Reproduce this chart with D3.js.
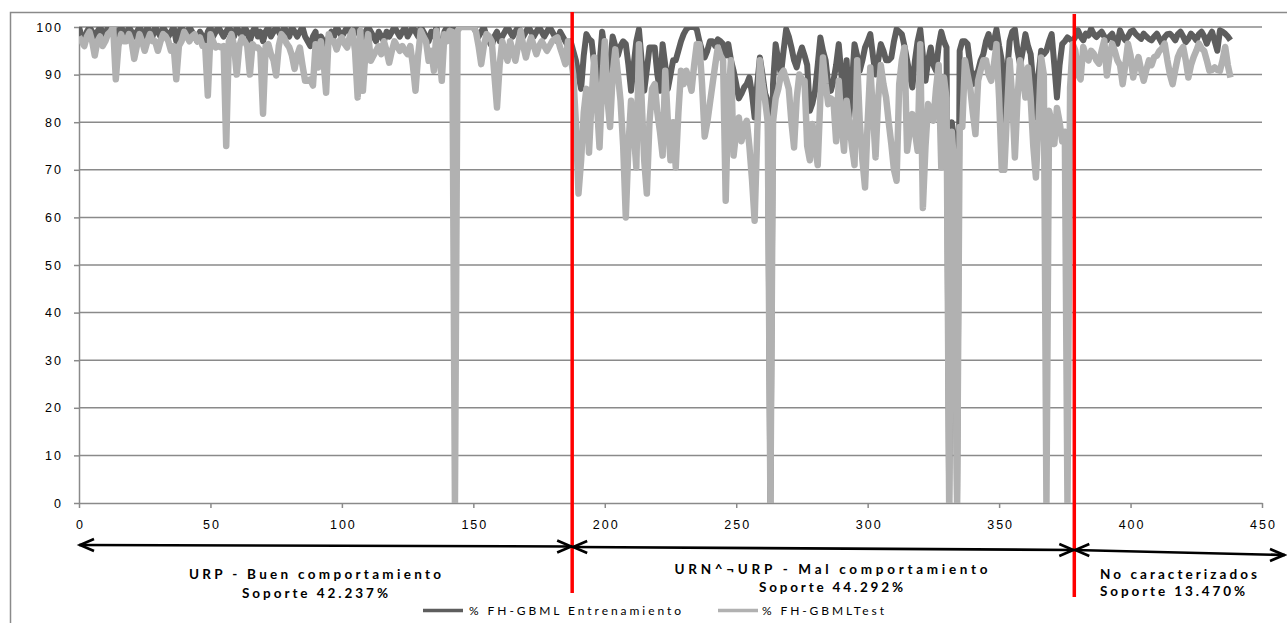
<!DOCTYPE html>
<html>
<head>
<meta charset="utf-8">
<script src="https://cdn.jsdelivr.net/npm/d3@7"></script>
<style>
  html, body { margin: 0; padding: 0; background: #fff; }
  svg { display: block; font-family: Lato, "Open Sans", sans-serif; }
</style>
</head>
<body>
<svg id="chart" width="1287" height="623"></svg>
<script>
// ── Data ─────────────────────────────────────────────────────────────────────

const xTicks = [0, 50, 100, 150, 200, 250, 300, 350, 400, 450];
const yTicks = [0, 10, 20, 30, 40, 50, 60, 70, 80, 90, 100];

const seriesNames = ["% FH-GBML Entrenamiento", "% FH-GBMLTest"];

// % FH-GBML Entrenamiento, one value per example index 0..438
const trainingPct = [
  100, 98, 97, 99, 100, 99, 98, 99, 100, 99,
  98, 100, 100, 100, 98, 99, 100, 99, 98, 100,
  99, 98, 99, 100, 99, 98, 100, 99, 98, 100,
  99, 98, 100, 99, 98, 99, 100, 97, 99, 100,
  99, 98, 100, 99, 98, 97, 99, 98, 97, 99,
  100, 98, 99, 100, 99, 98, 99, 100, 99, 98,
  100, 99, 98, 100, 99, 97, 99, 100, 98, 99,
  97, 99, 100, 98, 99, 100, 99, 98, 100, 99,
  98, 100, 99, 98, 99, 100, 98, 97, 96, 98,
  99, 93, 98, 97, 96, 98, 99, 98, 100, 99,
  98, 99, 100, 99, 98, 100, 99, 98, 97, 99,
  100, 99, 98, 97, 99, 98, 97, 99, 98, 99,
  100, 99, 98, 99, 100, 98, 99, 100, 99, 98,
  100, 99, 98, 97, 99, 98, 100, 95, 94.5, 99,
  100, 99, 100, 99, 100, 100, 100, 100, 100, 100,
  100, 99, 98, 99, 100, 98, 97, 96, 98, 99,
  97, 98, 99, 100, 99, 98, 99, 100, 99, 98,
  99, 100, 99, 98, 99, 100, 99, 98, 99, 100,
  99, 98, 97, 99, 98, 97, 96, 97, 95, 93,
  90, 87, 94, 98.5, 97.5, 97, 92, 85, 92, 99,
  95, 86.6, 92, 98, 96, 94, 96, 97, 96.4, 92,
  86.6, 92, 97, 99.5, 93, 86.6, 91, 95.7, 95.7, 95.7,
  90, 86.6, 96.4, 92, 87, 90, 93, 93, 95, 97,
  98.5, 99.5, 100, 100, 100, 99.5, 97, 95, 93.6, 95,
  97, 97, 96, 97.4, 97, 96.4, 94, 96.4, 93, 90.8,
  88, 85, 86, 87.3, 88, 89.4, 86, 81, 88, 93.6,
  90, 86, 84.5, 0, 88, 96.4, 93, 90, 95, 99.5,
  98, 95.7, 93, 91.5, 94, 95.7, 94, 92, 82.4, 84,
  86.6, 92, 97.8, 95, 93, 88, 86.6, 88.7, 92, 96.4,
  90, 84.5, 93, 81, 88, 96.4, 94, 90.8, 93, 95.7,
  97, 98.5, 94, 90, 93, 96.4, 95, 93, 93, 93.6,
  97, 99.5, 99, 98.5, 96, 93, 90, 87.3, 93, 97,
  99.5, 94, 88.7, 93, 95.7, 92, 90.8, 96, 99, 97,
  95.7, 0, 80, 76, 0, 95, 97, 97, 96.4, 92,
  88, 90, 90.8, 93, 94.3, 97, 98.5, 95.7, 97, 99.5,
  96, 93, 79, 90, 97, 99, 99.5, 95, 92, 95,
  98.5, 96, 94.3, 88, 81, 90, 95, 94.3, 95, 97,
  98.5, 92, 85.2, 92, 96.4, 97, 97.8, 97.4, 97, 97.9,
  99.3, 98, 97.2, 98.6, 98.2, 99.6, 98.5, 97.9, 98.5, 99,
  98, 97.2, 98, 98.6, 97, 96.5, 99.3, 98, 97.2, 98,
  99, 99.3, 98.5, 98, 97.5, 98.6, 98, 97.5, 97.2, 98,
  98.6, 97.5, 96.5, 97.9, 98.5, 98.6, 98, 97.2, 98.5, 99,
  98, 96.8, 97.5, 98.6, 98, 97.2, 98.5, 99, 98, 96.5,
  98, 99, 97, 95, 99.3, 99, 98.6, 98, 97.2
];

// % FH-GBMLTest, one value per example index 0..438
const testPct = [
  98, 97, 96, 98, 99, 97, 94, 97, 98, 96,
  97, 98.5, 99, 100, 89, 96, 98.5, 97, 97, 98.5,
  97, 93.3, 96, 98.5, 97, 95, 97, 98.5, 97, 97,
  95, 97, 98.5, 98, 97, 95, 96, 89, 96, 97,
  99, 98, 97, 98, 98.5, 97, 97.8, 96, 96, 85.6,
  98.5, 97, 95.7, 96, 95.7, 96, 75, 97, 98.5, 96,
  90, 96, 97.8, 97, 96, 90, 96.4, 95.7, 95.7, 95,
  81.8, 96, 96.4, 94.3, 93, 89.8, 96, 98.5, 97.8, 96.5,
  95.7, 94, 91.2, 94, 95.7, 92, 88.7, 88.7, 89, 87.7,
  96.4, 91.5, 97, 93, 86.2, 98.5, 97, 97, 95.3, 97,
  97.8, 96.5, 95.7, 98, 99.2, 95, 85.2, 99.2, 86.6, 95,
  98.5, 92.9, 94, 95, 96, 94.3, 97, 95, 92.5, 95,
  97, 96, 95, 96, 95, 94.3, 96, 92, 86.6, 94,
  99.2, 98, 97, 92.9, 95, 90.8, 99.2, 95, 88.7, 98.5,
  97, 99.2, 99, 0, 99.2, 100, 100, 100, 100, 100,
  100, 99, 96, 92.2, 96, 98.5, 98, 97, 90, 83.1,
  92, 97, 95, 92.9, 97, 95, 92.9, 96, 99.2, 96,
  93.6, 96, 97.8, 96, 94.3, 96, 97, 96, 95, 96,
  97, 97.5, 97.8, 95.7, 94, 92.2, 97, 94, 90, 80,
  65, 72, 82, 87, 73.6, 85, 93.6, 84, 74.7, 88,
  97, 85, 79, 90, 95.3, 90, 84.5, 75, 60, 75,
  84.5, 78, 70.5, 96.4, 85, 72, 65, 80, 87, 88,
  82, 78, 73, 90.8, 80, 72, 80, 70.5, 82, 90.8,
  88, 90.8, 89, 86.6, 92, 96.4, 96.4, 88, 77, 80,
  84, 88, 92, 95.7, 94, 93, 63.5, 85, 93, 73,
  78, 81, 76, 79, 80.3, 75, 68, 59.3, 78, 93,
  88, 84.5, 80, 0, 80, 85, 87, 90, 90.8, 89,
  87, 80, 74.7, 85, 90, 89, 88.7, 75, 72, 79.6,
  75, 71, 85, 93.6, 88, 83.8, 85, 84.5, 76, 88.7,
  80, 74, 84.5, 80, 75, 71, 93, 80, 72, 66.3,
  80, 91.5, 82, 72.6, 85, 92, 88, 85.2, 80, 75.4,
  70, 67.7, 88, 93, 95.7, 74, 78, 81.7, 78, 74,
  96.4, 62, 75, 83.8, 82, 80.3, 87, 92, 70.5, 89.4,
  85, 0, 78, 70, 0, 79, 79, 93, 90, 87.3,
  82, 77.5, 88.7, 91, 93, 93, 90, 88.7, 92, 96.4,
  85, 70, 70, 82, 93, 85, 72.6, 85, 93, 90,
  85.2, 91.5, 85, 75, 68.4, 80, 93.6, 90, 0, 82.4,
  80, 75.4, 83, 80, 76, 78, 0, 87.3, 96.4, 95,
  90, 89, 95.8, 94, 93, 95, 94.4, 93, 92.3, 95,
  97.2, 89.8, 94, 96.5, 95, 93, 92, 88, 92, 96.5,
  94, 89.4, 92, 93.7, 91, 88.7, 91, 93, 92, 93.7,
  94, 95, 95.5, 96.5, 93, 90, 88, 91, 93.7, 95,
  95.8, 93, 89.4, 92, 93.7, 95, 96.5, 95.5, 95, 93,
  90.8, 91, 91.5, 91, 90.8, 93, 95.8, 92, 89.4
];

// region boundaries (example index where the red lines sit) and labels
const regionBounds = [187.6, 378.6];
const arrowSpans   = [[0, 187.6], [187.6, 378.6], [378.6, 459.5]];
const regionTitles  = ["URP - Buen comportamiento", "URN^¬URP  -  Mal comportamiento", "No caracterizados"];
const regionSupport = ["Soporte 42.237%", "Soporte 44.292%", "Soporte 13.470%"];

// ── Layout ───────────────────────────────────────────────────────────────────

const W = 1287, H = 623;
const plot = { left: 79, right: 1262, top: 27, bottom: 503 };
const DARK = "#5e5e5e", LIGHT = "#b1b1b1", GRID = "#8a8a8a";

const svg = d3.select("#chart");
svg.append("rect").attr("width", W).attr("height", H).attr("fill", "#fff");

const x = d3.scaleLinear().domain([0, 450]).range([plot.left, plot.right]);
const y = d3.scaleLinear().domain([0, 100]).range([plot.bottom, plot.top]);

// outer chart border (top + left edges visible)
svg.append("path")
  .attr("d", `M10.5,${H} L10.5,12.5 L${W},12.5`)
  .attr("fill", "none").attr("stroke", GRID).attr("stroke-width", 1.5);

// horizontal gridlines
svg.append("g").selectAll("line").data(yTicks.slice(1)).enter().append("line")
  .attr("x1", plot.left).attr("x2", plot.right)
  .attr("y1", d => y(d)).attr("y2", d => y(d))
  .attr("stroke", GRID).attr("stroke-width", 1.5);

// axes
const tickFont = g => g.selectAll("text")
  .attr("fill", "#000").style("font-size", "12.5px").style("letter-spacing", "2px");

const yAxis = svg.append("g")
  .attr("transform", `translate(${plot.left},0)`)
  .call(d3.axisLeft(y).tickValues(yTicks).tickSize(5).tickPadding(11).tickSizeOuter(0));
yAxis.call(tickFont);
yAxis.selectAll("path,line").attr("stroke", GRID).attr("stroke-width", 1.5);

const xAxis = svg.append("g")
  .attr("transform", `translate(0,${plot.bottom})`)
  .call(d3.axisBottom(x).tickValues(xTicks).tickSize(5).tickPadding(12).tickSizeOuter(0));
xAxis.call(tickFont);
xAxis.selectAll("text").attr("dx", "1px");
xAxis.selectAll("path,line").attr("stroke", GRID).attr("stroke-width", 1.5);

// series lines, clipped to the plot area
svg.append("clipPath").attr("id", "plotClip").append("rect")
  .attr("x", plot.left).attr("y", plot.top)
  .attr("width", plot.right - plot.left).attr("height", plot.bottom - plot.top);

const line = d3.line().x((d, i) => x(i)).y(d => y(d));
const lines = svg.append("g").attr("clip-path", "url(#plotClip)");
lines.append("path").datum(trainingPct).attr("d", line)
  .attr("fill", "none").attr("stroke", DARK).attr("stroke-width", 6).attr("stroke-linejoin", "round");
lines.append("path").datum(testPct).attr("d", line)
  .attr("fill", "none").attr("stroke", LIGHT).attr("stroke-width", 6.5).attr("stroke-linejoin", "round");

// red region separators
const redTops = [12, 14], redBottoms = [593, 597];
svg.append("g").selectAll("line").data(regionBounds).enter().append("line")
  .attr("x1", d => x(d)).attr("x2", d => x(d))
  .attr("y1", (d, i) => redTops[i]).attr("y2", (d, i) => redBottoms[i])
  .attr("stroke", "#ff0000").attr("stroke-width", 3.5);

// double arrows under the axis
const arrowY = [[545, 546.5], [547, 550], [550, 555]];
const arrows = svg.append("g").attr("stroke", "#000").attr("stroke-width", 2.6).attr("fill", "none");
arrowSpans.forEach(([a, b], i) => {
  const x0 = x(a), x1 = Math.min(x(b), W - 2), [y0, y1] = arrowY[i];
  arrows.append("line").attr("x1", x0).attr("y1", y0).attr("x2", x1).attr("y2", y1);
  arrows.append("path").attr("d", `M${x0 + 15},${y0 - 6} L${x0 + 1},${y0} L${x0 + 15},${y0 + 6}`);
  arrows.append("path").attr("d", `M${x1 - 15},${y1 - 6} L${x1 - 1},${y1} L${x1 - 15},${y1 + 6}`);
});

// region annotations
const titleSpec = [
  { x: 315, anchor: "middle", y1: 579, y2: 598, w1: 252, w2: 146 },
  { x: 831, anchor: "middle", y1: 574, y2: 592, w1: 313, w2: 144 },
  { x: 1100, anchor: "start", y1: 579, y2: 596, w1: 157, w2: 145 }
];
const notes = svg.append("g").style("font-size", "13.5px").style("font-weight", "bold")
  .attr("fill", "#000").style("white-space", "pre");
regionTitles.forEach((t, i) => {
  const s = titleSpec[i];
  notes.append("text").attr("x", s.x).attr("y", s.y1).attr("text-anchor", s.anchor)
    .attr("textLength", s.w1).attr("lengthAdjust", "spacing").text(t);
  notes.append("text").attr("x", s.x).attr("y", s.y2).attr("text-anchor", s.anchor)
    .attr("textLength", s.w2).attr("lengthAdjust", "spacing").text(regionSupport[i]);
});

// legend
const legendSpec = [
  { x0: 423, x1: 463, tx: 469, w: 212, color: DARK },
  { x0: 718, x1: 758, tx: 762, w: 122, color: LIGHT }
];
const legend = svg.append("g").style("font-size", "12px").attr("fill", "#000");
seriesNames.forEach((name, i) => {
  const s = legendSpec[i];
  legend.append("line").attr("x1", s.x0).attr("x2", s.x1).attr("y1", 610.5).attr("y2", 610.5)
    .attr("stroke", s.color).attr("stroke-width", 3.5);
  legend.append("text").attr("x", s.tx).attr("y", 615)
    .attr("textLength", s.w).attr("lengthAdjust", "spacing").text(name);
});
</script>
</body>
</html>
